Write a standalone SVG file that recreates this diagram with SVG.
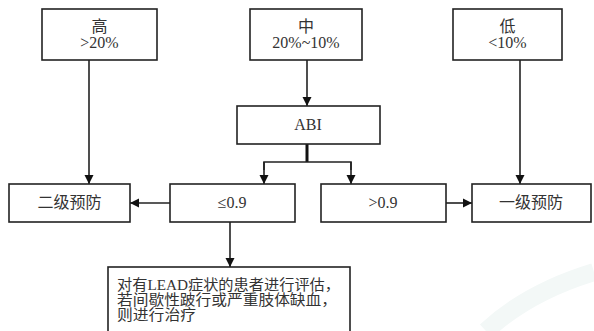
<svg xmlns="http://www.w3.org/2000/svg" width="594" height="331" viewBox="0 0 594 331">
<style>
.box{fill:#fff;stroke:#222;stroke-width:1.6}
.t{font-family:"Liberation Serif","Times New Roman","DejaVu Serif","Noto Sans CJK SC",serif;font-size:16px;fill:#333;text-anchor:middle}
.tl{font-family:"Liberation Serif","Times New Roman","DejaVu Serif","Noto Sans CJK SC",serif;font-size:14.5px;fill:#333}
.c{fill:none;stroke:#222;stroke-width:1.6}
</style>
<defs>
<marker id="ah" markerUnits="userSpaceOnUse" markerWidth="10" markerHeight="10" refX="9" refY="5" orient="auto">
<path d="M0,0.5 L9,5 L0,9.5 Z" fill="#111"/>
</marker>
</defs>
<rect width="594" height="331" fill="#fff"/>
<path d="M486,331 Q528,292 594,272" fill="none" stroke="#f3f8f7" stroke-width="18"/>
<g id="connectors">
<line class="c" x1="89" y1="60" x2="89" y2="184" marker-end="url(#ah)"/>
<line class="c" x1="307" y1="60" x2="307" y2="106" marker-end="url(#ah)"/>
<line class="c" x1="520" y1="60" x2="520" y2="184" marker-end="url(#ah)"/>
<line x1="307" y1="144" x2="307" y2="162" stroke="#111" stroke-width="3"/>
<path class="c" d="M264,170 V162 H351 V170"/>
<line class="c" x1="264" y1="162" x2="264" y2="184" marker-end="url(#ah)"/>
<line class="c" x1="351" y1="162" x2="351" y2="184" marker-end="url(#ah)"/>
<line class="c" x1="170" y1="203" x2="130" y2="203" marker-end="url(#ah)"/>
<line class="c" x1="446" y1="203" x2="472" y2="203" marker-end="url(#ah)"/>
<line class="c" x1="230" y1="222" x2="230" y2="267" marker-end="url(#ah)"/>
</g>
<g id="node-high">
<rect class="box" x="42" y="9" width="115" height="51"/>
<text class="t" x="99.5" y="32">高</text>
<text class="t" x="99.5" y="48">&gt;20%</text>
</g>
<g id="node-mid">
<rect class="box" x="250" y="9" width="112" height="51"/>
<text class="t" x="306" y="32">中</text>
<text class="t" x="306" y="48">20%~10%</text>
</g>
<g id="node-low">
<rect class="box" x="453" y="9" width="109" height="51"/>
<text class="t" x="507.5" y="32">低</text>
<text class="t" x="507.5" y="48">&lt;10%</text>
</g>
<g id="node-abi">
<rect class="box" x="237" y="106" width="143" height="38"/>
<text class="t" x="308" y="130">ABI</text>
</g>
<g id="node-secondary">
<rect class="box" x="9" y="184" width="121" height="38"/>
<text class="t" x="69.5" y="208">二级预防</text>
</g>
<g id="node-le">
<rect class="box" x="170" y="184" width="125" height="38"/>
<text class="t" x="232" y="208">≤0.9</text>
</g>
<g id="node-gt">
<rect class="box" x="321" y="184" width="125" height="38"/>
<text class="t" x="383" y="208">&gt;0.9</text>
</g>
<g id="node-primary">
<rect class="box" x="472" y="184" width="119" height="38"/>
<text class="t" x="531" y="208">一级预防</text>
</g>
<g id="node-treat">
<rect class="box" x="108" y="267" width="242" height="70"/>
<text class="tl" x="117" y="290" textLength="223" lengthAdjust="spacingAndGlyphs">对有LEAD症状的患者进行评估，</text>
<text class="tl" x="117" y="305" textLength="220" lengthAdjust="spacingAndGlyphs">若间歇性跛行或严重肢体缺血，</text>
<text class="tl" x="117" y="320" textLength="79" lengthAdjust="spacingAndGlyphs">则进行治疗</text>
</g>
</svg>
